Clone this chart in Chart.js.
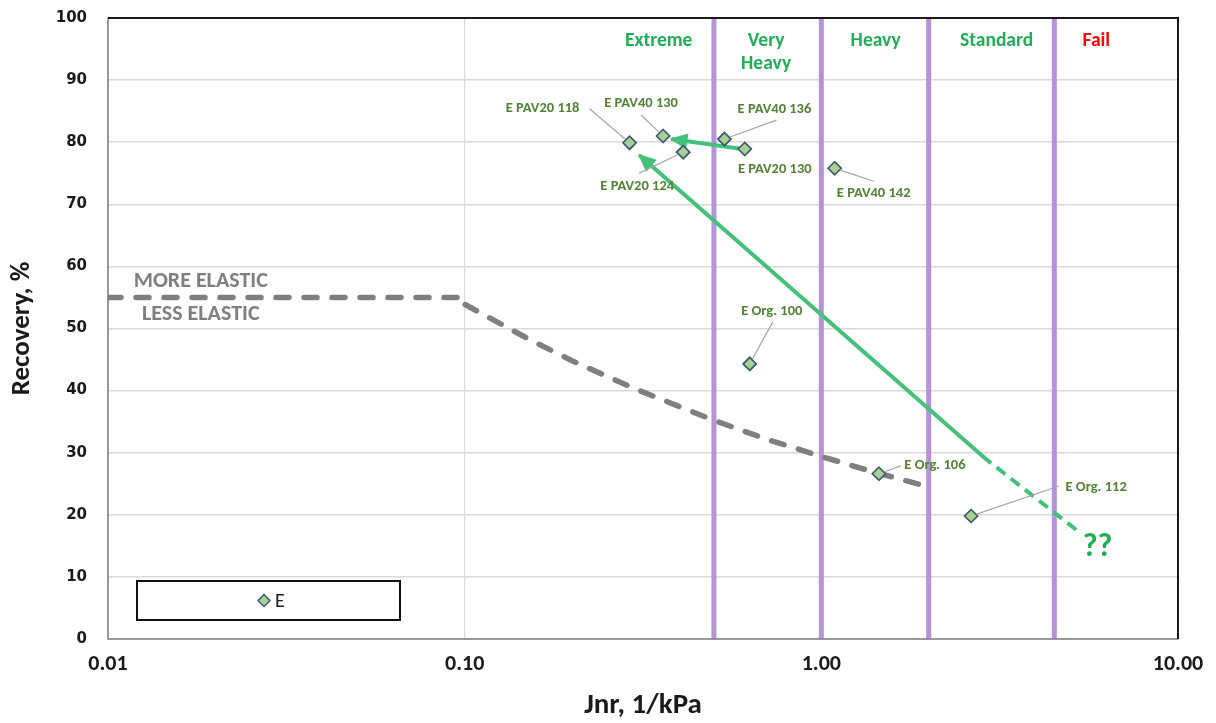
<!DOCTYPE html>
<html>
<head>
<meta charset="utf-8">
<script src="https://cdn.jsdelivr.net/npm/chart.js@4/dist/chart.umd.min.js"></script>
<style>
  html, body { margin: 0; padding: 0; background: #ffffff; }
  #wrap { width: 1216px; height: 723px; position: relative; }
</style>
</head>
<body>
<div id="wrap"><canvas id="chart"></canvas></div>
<script>
// MSCR results for binder E: original and PAV-aged samples
const sampleNames = ['E PAV20 118', 'E PAV40 130', 'E PAV20 124', 'E PAV40 136', 'E PAV20 130',
                     'E PAV40 142', 'E Org. 100', 'E Org. 106', 'E Org. 112'];
const sampleJnr = [0.29, 0.36, 0.41, 0.535, 0.61, 1.09, 0.63, 1.45, 2.63];
const sampleRecovery = [79.9, 81.0, 78.4, 80.5, 78.9, 75.8, 44.3, 26.6, 19.8];

// Elastic response boundary curve
const boundaryJnr = [0.01, 0.1, 0.1, 0.15, 0.2, 0.3, 0.5, 0.7, 1, 1.4, 2];
const boundaryRecovery = [55, 55, 53.9, 48.4, 44.8, 40.3, 35.2, 32.2, 29.4, 26.9, 24.5];

// Traffic grade Jnr limits and grade names
const gradeLimits = [0.5, 1, 2, 4.5];
const gradeNames = [['Extreme'], ['Very', 'Heavy'], ['Heavy'], ['Standard'], ['Fail']];
const gradeLabelJnr = [0.35, 0.70, 1.42, 3.1, 5.9];

// Aging trend arrows
const trendJnr = [2.92, 0.309];
const trendRecovery = [28.8, 77.9];
const trendExtJnr = [5.18, 2.92];
const trendExtRecovery = [17.6, 28.8];
const pavJnr = [0.60, 0.38];
const pavRecovery = [78.9, 80.5];

// Axis ticks
const xTickValues = [0.01, 0.1, 1, 10];
const xTickLabels = ['0.01', '0.10', '1.00', '10.00'];
const yTickValues = [0, 10, 20, 30, 40, 50, 60, 70, 80, 90, 100];

// Point label placement (pixel offsets from the marker: text centre, leader end)
const labelLayout = [
  { dx: -87, dy: -34, lx: -40, ly: -34 },
  { dx: -22, dy: -33, lx: -22, ly: -21 },
  { dx: -46, dy: 34,  lx: -44, ly: 21 },
  { dx: 50,  dy: -30, lx: 52,  ly: -19 },
  { dx: 30,  dy: 20,  lx: null, ly: null },
  { dx: 39,  dy: 25,  lx: 39,  ly: 13 },
  { dx: 22,  dy: -53, lx: 23,  ly: -42 },
  { dx: 56,  dy: -8,  lx: 22,  ly: -8 },
  { dx: 125, dy: -29, lx: 88,  ly: -30 }
];

const NARROW = '"Carlito", "Liberation Sans Narrow", "DejaVu Sans Condensed", "Open Sans", sans-serif';
const GREEN_TEXT = '#1fae55';
const GREEN_ARROW = '#43c07a';
const LABEL_COLOR = '#548235';
const PURPLE = '#b493d8';
const GRAY = '#7f7f7f';

const pts = (xs, ys) => xs.map((x, i) => ({ x: x, y: ys[i] }));

const datasets = [
  {
    label: 'E',
    data: pts(sampleJnr, sampleRecovery),
    showLine: false,
    pointStyle: 'rectRot',
    pointRadius: 6.5,
    pointBackgroundColor: '#a9d08e',
    pointBorderColor: '#3b5a7a',
    pointBorderWidth: 1.5,
    order: 0
  },
  {
    label: 'trend',
    data: pts(trendJnr, trendRecovery),
    showLine: true,
    borderColor: GREEN_ARROW,
    borderWidth: 4,
    pointRadius: 0,
    order: 1
  },
  {
    label: 'trendExt',
    data: pts(trendExtJnr, trendExtRecovery),
    showLine: true,
    borderColor: GREEN_ARROW,
    borderWidth: 4,
    borderDash: [11, 7],
    pointRadius: 0,
    order: 1
  },
  {
    label: 'pav',
    data: pts(pavJnr, pavRecovery),
    showLine: true,
    borderColor: GREEN_ARROW,
    borderWidth: 4,
    pointRadius: 0,
    order: 1
  },
  {
    label: 'boundary',
    data: pts(boundaryJnr, boundaryRecovery),
    showLine: true,
    borderColor: GRAY,
    borderWidth: 5.5,
    borderDash: [13, 15],
    borderCapStyle: 'round',
    borderJoinStyle: 'round',
    pointRadius: 0,
    order: 2
  }
];

gradeLimits.forEach((g, i) => {
  datasets.push({
    label: 'limit' + i,
    data: [{ x: g, y: 0 }, { x: g, y: 100 }],
    showLine: true,
    borderColor: PURPLE,
    borderWidth: 5,
    pointRadius: 0,
    order: 3
  });
});

function arrowHead(ctx, x0, y0, x1, y1, len, half, color) {
  const a = Math.atan2(y1 - y0, x1 - x0);
  const tx = x1 + Math.cos(a) * 2, ty = y1 + Math.sin(a) * 2;
  ctx.save();
  ctx.fillStyle = color;
  ctx.beginPath();
  ctx.moveTo(tx, ty);
  ctx.lineTo(tx - len * Math.cos(a) + half * Math.sin(a), ty - len * Math.sin(a) - half * Math.cos(a));
  ctx.lineTo(tx - len * Math.cos(a) - half * Math.sin(a), ty - len * Math.sin(a) + half * Math.cos(a));
  ctx.closePath();
  ctx.fill();
  ctx.restore();
}

const decorations = {
  id: 'decorations',
  afterDatasetsDraw(chart) {
    const { ctx, chartArea: area, scales: { x, y } } = chart;

    // arrow heads
    arrowHead(ctx, x.getPixelForValue(trendJnr[0]), y.getPixelForValue(trendRecovery[0]),
      x.getPixelForValue(trendJnr[1]), y.getPixelForValue(trendRecovery[1]), 18, 8, GREEN_ARROW);
    arrowHead(ctx, x.getPixelForValue(pavJnr[0]), y.getPixelForValue(pavRecovery[0]),
      x.getPixelForValue(pavJnr[1]), y.getPixelForValue(pavRecovery[1]), 18, 8, GREEN_ARROW);

    // redraw markers on top of arrows
    const meta = chart.getDatasetMeta(0);
    meta.data.forEach(el => el.draw(ctx, area));

    // point labels with leader lines
    ctx.save();
    ctx.font = 'bold 14.5px ' + NARROW;
    ctx.textAlign = 'center';
    ctx.textBaseline = 'middle';
    sampleNames.forEach((name, i) => {
      const px = x.getPixelForValue(sampleJnr[i]);
      const py = y.getPixelForValue(sampleRecovery[i]);
      const L = labelLayout[i];
      if (L.lx !== null) {
        const dist = Math.hypot(L.lx, L.ly);
        ctx.strokeStyle = '#a6a6a6';
        ctx.lineWidth = 1.2;
        ctx.beginPath();
        ctx.moveTo(px + L.lx / dist * 6, py + L.ly / dist * 6);
        ctx.lineTo(px + L.lx, py + L.ly);
        ctx.stroke();
      }
      ctx.fillStyle = LABEL_COLOR;
      ctx.fillText(name, px + L.dx, py + L.dy);
    });

    // traffic grade names
    ctx.font = 'bold 19.5px ' + NARROW;
    gradeNames.forEach((lines, i) => {
      ctx.fillStyle = lines[0] === 'Fail' ? '#ff0000' : GREEN_TEXT;
      const gx = x.getPixelForValue(gradeLabelJnr[i]);
      lines.forEach((t, j) => ctx.fillText(t, gx, area.top + 23 + j * 23));
    });

    // elastic response captions
    ctx.font = 'bold 22px ' + NARROW;
    ctx.fillStyle = GRAY;
    ctx.fillText('MORE ELASTIC', x.getPixelForValue(0.0182), y.getPixelForValue(57.6));
    ctx.fillText('LESS ELASTIC', x.getPixelForValue(0.0182), y.getPixelForValue(52.3));

    // unknown region marker
    ctx.font = 'bold 32px ' + NARROW;
    ctx.fillStyle = GREEN_TEXT;
    ctx.fillText('??', x.getPixelForValue(5.95), y.getPixelForValue(14.7));
    ctx.restore();
  },
  afterDraw(chart) {
    const { ctx, chartArea: a } = chart;
    ctx.save();
    // plot frame
    ctx.lineWidth = 1.5;
    ctx.strokeStyle = '#808080';
    ctx.beginPath();
    ctx.moveTo(a.left, a.top);
    ctx.lineTo(a.left, a.bottom);
    ctx.lineTo(a.right, a.bottom);
    ctx.stroke();
    ctx.lineWidth = 2;
    ctx.strokeStyle = '#1a1a1a';
    ctx.beginPath();
    ctx.moveTo(a.left, a.top);
    ctx.lineTo(a.right, a.top);
    ctx.lineTo(a.right, a.bottom);
    ctx.stroke();

    // legend box
    const bx = a.left + 29, by = a.bottom - 58, bw = 263, bh = 39;
    ctx.fillStyle = '#ffffff';
    ctx.fillRect(bx, by, bw, bh);
    ctx.lineWidth = 2;
    ctx.strokeStyle = '#111111';
    ctx.strokeRect(bx, by, bw, bh);
    const ds = chart.data.datasets[0];
    const cx = bx + 127, cy = by + bh / 2;
    ctx.fillStyle = ds.pointBackgroundColor;
    ctx.strokeStyle = ds.pointBorderColor;
    ctx.lineWidth = 1.5;
    ctx.beginPath();
    ctx.moveTo(cx, cy - 6); ctx.lineTo(cx + 6, cy); ctx.lineTo(cx, cy + 6); ctx.lineTo(cx - 6, cy);
    ctx.closePath(); ctx.fill(); ctx.stroke();
    ctx.fillStyle = '#1a1a1a';
    ctx.font = '20px ' + NARROW;
    ctx.textAlign = 'left';
    ctx.textBaseline = 'middle';
    ctx.fillText(ds.label, cx + 11, cy + 1);
    ctx.restore();
  }
};

new Chart(document.getElementById('chart'), {
  type: 'scatter',
  data: { datasets: datasets },
  options: {
    responsive: true,
    maintainAspectRatio: false,
    animation: false,
    devicePixelRatio: 1,
    layout: { padding: { left: 0, right: 38, top: 18, bottom: 0 } },
    plugins: { legend: { display: false }, tooltip: { enabled: false } },
    scales: {
      x: {
        type: 'logarithmic',
        min: 0.01,
        max: 10,
        afterBuildTicks: (scale) => { scale.ticks = xTickValues.map(v => ({ value: v })); },
        afterFit: (scale) => { scale.height = 84; },
        ticks: {
          autoSkip: false,
          maxRotation: 0,
          padding: 12,
          color: '#1a1a1a',
          font: { family: NARROW, size: 22, weight: 'bold' },
          callback: (value, index) => xTickLabels[index]
        },
        grid: { color: '#d9d9d9', lineWidth: 1.2, drawTicks: false },
        border: { display: false },
        title: {
          display: true,
          text: 'Jnr, 1/kPa',
          color: '#1a1a1a',
          font: { family: NARROW, size: 29, weight: 'bold' },
          padding: { top: 0, bottom: 0 }
        }
      },
      y: {
        min: 0,
        max: 100,
        afterBuildTicks: (scale) => { scale.ticks = yTickValues.map(v => ({ value: v })); },
        afterFit: (scale) => {
          scale.width = 108;
          scale.paddingTop = 0;
          scale.paddingBottom = 0;
        },
        ticks: {
          padding: 21,
          color: '#1a1a1a',
          font: { family: '"DejaVu Sans", Verdana, sans-serif', size: 15, weight: 'bold' }
        },
        grid: { color: '#d9d9d9', lineWidth: 1.5, drawTicks: false },
        border: { display: false },
        title: {
          display: true,
          text: 'Recovery, %',
          color: '#1a1a1a',
          font: { family: NARROW, size: 27, weight: 'bold' },
          padding: { top: 6, bottom: 0 }
        }
      }
    }
  },
  plugins: [decorations]
});
</script>
</body>
</html>
